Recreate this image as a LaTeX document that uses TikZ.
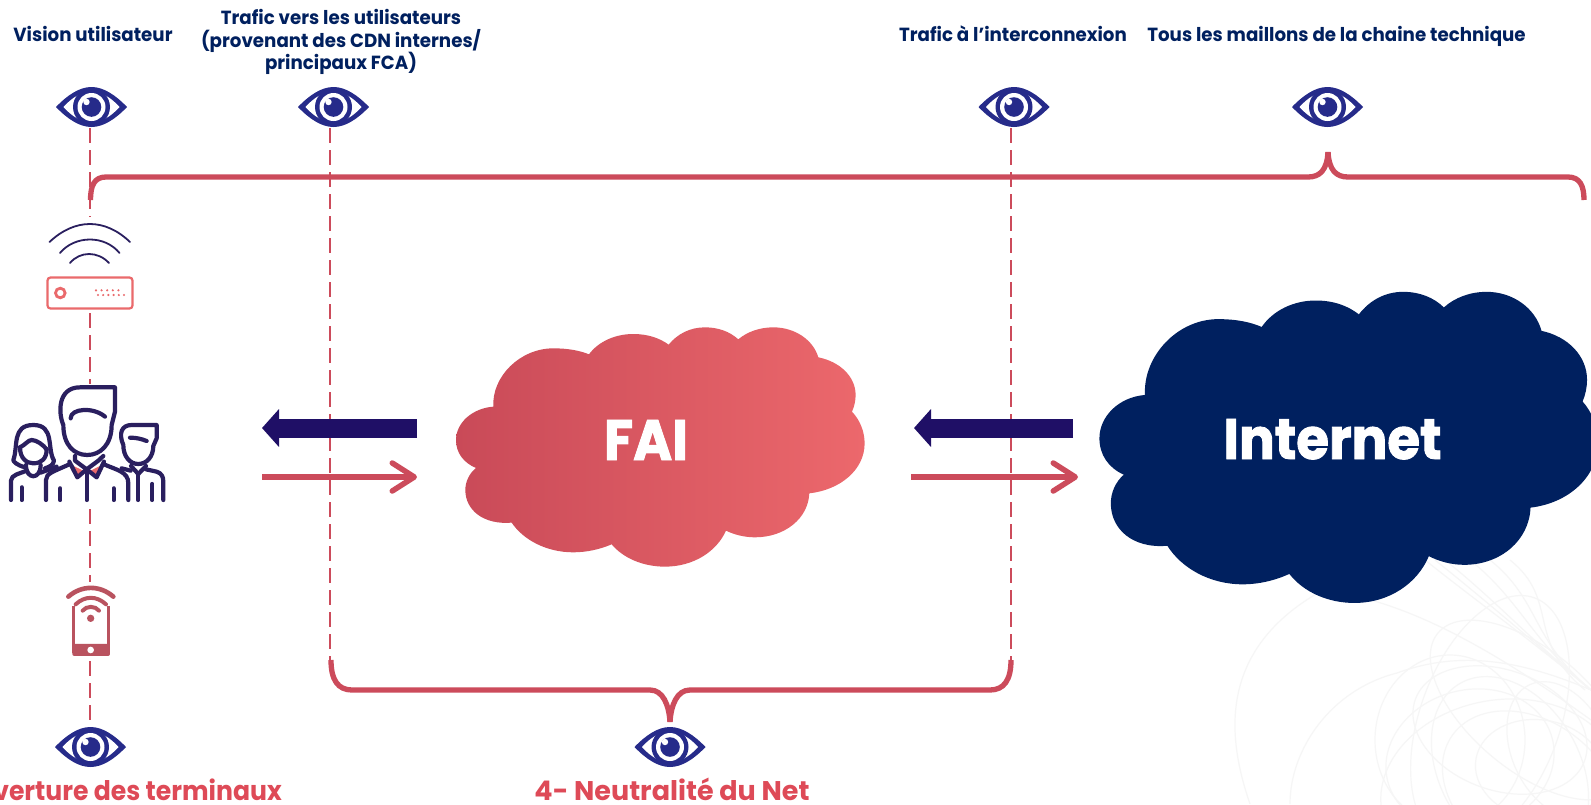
\documentclass[tikz,border=0pt]{standalone}
\usepackage{fontspec}
\usetikzlibrary{arrows.meta,calc}
\setmainfont{Poppins}
\newfontfamily\hdfont[FakeStretch=0.96]{Poppins}
\newfontfamily\termfont[FakeStretch=0.93]{Poppins}
\newfontfamily\cloudfont[FakeStretch=0.93,FakeBold=1.6]{Poppins}
\definecolor{navytxt}{HTML}{00205F}
\definecolor{cloudnavy}{HTML}{00205F}
\definecolor{redline}{HTML}{CC4B5B}
\definecolor{redtxt}{HTML}{DE4A57}
\definecolor{eyeblue}{HTML}{262B8A}
\definecolor{arrownavy}{HTML}{1F0F66}
\definecolor{iconink}{HTML}{2A1F5F}
\definecolor{coral}{HTML}{EA6A6C}
\definecolor{phonered}{HTML}{B9535F}
\definecolor{cloudL}{HTML}{C94A58}
\definecolor{cloudR}{HTML}{EC686C}
\definecolor{faint}{HTML}{F6F6F6}
\newcommand{\cloudoutline}{
  (160,290) .. controls (155,200) and (240,115) .. (340,115)
  .. controls (385,115) and (420,122) .. (447,133)
  .. controls (475,95) and (525,72) .. (580,72)
  .. controls (625,72) and (660,85) .. (686,104)
  .. controls (712,72) and (750,52) .. (795,52)
  .. controls (835,52) and (870,65) .. (895,88)
  .. controls (922,65) and (960,52) .. (1000,52)
  .. controls (1065,52) and (1120,90) .. (1135,142)
  .. controls (1200,155) and (1247,200) .. (1247,255)
  .. controls (1247,272) and (1243,290) .. (1236,305)
  .. controls (1260,330) and (1274,365) .. (1274,400)
  .. controls (1274,480) and (1200,540) .. (1108,550)
  .. controls (1105,625) and (1035,682) .. (945,682)
  .. controls (915,682) and (885,675) .. (858,662)
  .. controls (830,725) and (760,770) .. (675,770)
  .. controls (610,770) and (550,745) .. (515,703)
  .. controls (480,718) and (440,727) .. (400,727)
  .. controls (320,727) and (250,690) .. (215,638)
  .. controls (130,645) and (76,600) .. (76,540)
  .. controls (76,515) and (88,490) .. (108,474)
  .. controls (70,458) and (48,428) .. (48,390)
  .. controls (48,340) and (95,295) .. (160,290) -- cycle}
\tikzset{
  headtxt/.style={font=\hdfont\bfseries\fontsize{19}{22}\selectfont,text=navytxt,anchor=base,inner sep=0pt},
  bigred/.style={font=\bfseries\fontsize{27}{32}\selectfont,text=redtxt,anchor=base,inner sep=0pt},
  termred/.style={font=\termfont\bfseries\fontsize{27}{32}\selectfont,text=redtxt,anchor=base east,inner sep=0pt},
  cloudtxt/.style={font=\cloudfont\bfseries\fontsize{57}{60}\selectfont,text=white,anchor=base,inner sep=0pt},
  eyenode/.style={minimum width=71pt,minimum height=40pt,inner sep=0pt,outer sep=0pt},
  iconnode/.style={inner sep=0pt,outer sep=0pt},
  dashline/.style={draw=redline,line width=2pt,dash pattern=on 15pt off 7pt},
  bracket/.style={draw=redline,line width=5.3pt,line join=round},
  navyarrow/.style={draw=arrownavy,line width=19pt,-{Triangle[length=17pt,width=37pt]}},
  redarrow/.style={draw=redline,line width=5.5pt,-{Straight Barb[length=22pt,width=28pt,line width=5.5pt,round]}},
  ink/.style={draw=iconink,line width=4.2pt,line cap=round,line join=round},
  inkthin/.style={draw=iconink,line width=1.8pt,line cap=round},
  eyepic/.pic={
    \fill[eyeblue] (-35.5,0) .. controls (-24,-12) and (-12,-20) .. (0,-20) .. controls (12,-20) and (24,-12) .. (35.5,0)
       .. controls (24,12) and (12,20) .. (0,20) .. controls (-12,20) and (-24,12) .. (-35.5,0) -- cycle;
    \fill[white] (-28,0) .. controls (-20,-9) and (-10,-15.5) .. (0,-15.5) .. controls (10,-15.5) and (20,-9) .. (28,0)
       .. controls (20,9) and (10,15.5) .. (0,15.5) .. controls (-10,15.5) and (-20,9) .. (-28,0) -- cycle;
    \fill[eyeblue] (0,0) circle[radius=18.5];
    \fill[white] (0,0) circle[radius=14];
    \fill[eyeblue] (0,0) circle[radius=9.8];
    \fill[white] (-5,-5) circle[radius=3.2];
  }
}
\begin{document}
\begin{tikzpicture}[x=1pt,y=-1pt]
\useasboundingbox (0,0) rectangle (1591,804);
\fill[white] (0,0) rectangle (1591,804);

% faint background scribble
\begin{scope}
\clip (1200,480) rectangle (1591,804);
\foreach \a/\rx/\ry/\cx/\cy in {0/75/85/1450/740, 15/85/70/1470/760, -20/90/60/1500/730, 30/70/100/1510/770, -35/95/70/1530/790, 10/120/90/1500/790, 50/60/120/1530/710, -10/65/50/1540/770, 25/48/72/1560/750, 70/130/70/1490/720}
  \draw[faint,line width=1.2pt,rotate around={\a:(\cx,\cy)}] (\cx,\cy) ellipse[x radius=\rx,y radius=\ry];
\draw[faint,line width=1.2pt] (1250,804) .. controls (1228,740) and (1215,650) .. (1323,590) .. controls (1400,600) and (1480,640) .. (1591,720);
\draw[faint,line width=1.2pt] (1290,804) .. controls (1290,750) and (1330,690) .. (1397,673) .. controls (1460,650) and (1520,660) .. (1591,690);
\foreach \sx/\ex in {1425/1591,1435/1591,1445/1591,1470/1591,1490/1591,1510/1585}
  \draw[faint,line width=1.2pt] (\sx,560) .. controls (\sx+50,600) and (\ex-60,640) .. (\ex,690);
\end{scope}

% clouds
\begin{scope}[shift={(440pt,-310pt)},x=0.3333pt,y=-0.3333pt]
  \shade[left color=cloudL,right color=cloudR] \cloudoutline;
\end{scope}
\begin{scope}
\clip (0,0) rectangle (1591,804);
\begin{scope}[shift={(1079.9pt,-269.3pt)},x=0.4067pt,y=-0.4333pt]
  \fill[cloudnavy] \cloudoutline;
\end{scope}
\end{scope}
\node[cloudtxt] (fai) at (646,460) {FAI};
\node[cloudtxt] (internet) at (1332.5,459) {Internet};

% eyes
\node[eyenode] (eye1) at (91.5,107) {};
\node[eyenode] (eye2) at (333.5,107) {};
\node[eyenode] (eye3) at (1014,107) {};
\node[eyenode] (eye4) at (1327.5,107) {};
\node[eyenode] (eye5) at (90.5,747) {};
\node[eyenode] (eye6) at (670,747) {};
\foreach \e in {eye1,eye2,eye3,eye4,eye5,eye6} \pic at (\e) {eyepic};

% texts
\node[headtxt] (t1) at (93,41) {Vision utilisateur};
\node[headtxt] (t2) at (341,24) {Trafic vers les utilisateurs};
\node[headtxt] (t3) at (341,47) {(provenant des CDN internes/};
\node[headtxt] (t4) at (341,69) {principaux FCA)};
\node[headtxt] (t5) at (1013,41) {Trafic à l’interconnexion};
\node[headtxt] (t6) at (1336.5,41) {Tous les maillons de la chaine technique};
\node[termred] (t7) at (282,800) {verture des terminaux};
\node[bigred] (t8) at (672,800) {4- Neutralité du Net};

% icon anchors
\node[iconnode,minimum width=85pt,minimum height=31pt] (router) at (90,293) {};

% dashed lines
\coordinate (d1a) at (90,128);
\coordinate (d1b) at (90,217);
\coordinate (d2a) at (90,313);
\coordinate (d2b) at (90,384);
\coordinate (d3a) at (90,509);
\coordinate (d3b) at (90,582);
\coordinate (d4a) at (90,661);
\coordinate (d4b) at (90,725);
\coordinate (d5a) at (329.5,128);
\coordinate (d5b) at (329.5,660);
\coordinate (d6a) at (1011,128);
\coordinate (d6b) at (1011,660);
\draw[dashline] (d1a) -- (d1b);
\draw[dashline] (d2a) -- (d2b);
\draw[dashline] (d3a) -- (d3b);
\draw[dashline] (d4a) -- (d4b);
\draw[dashline] (d5a) -- (d5b);
\draw[dashline] (d6a) -- (d6b);

% brackets
\coordinate (bt1) at (90.5,200);
\coordinate (bt2) at (1584,200);
\coordinate (btp) at (1328,152);
\draw[bracket] (bt1) .. controls (90.5,186) and (94,177) .. (106,177) -- (1308,177)
   .. controls (1320,177) and (1327,170) .. (btp);
\draw[bracket] (btp) .. controls (1329,170) and (1336,177) .. (1348,177) -- (1568,177)
   .. controls (1580,177) and (1584,186) .. (bt2);
\coordinate (bb1) at (331,660);
\coordinate (bb2) at (1011,660);
\coordinate (bbp) at (670,722);
\draw[bracket] (bb1) .. controls (331,680) and (338,690) .. (352,690) -- (650,690)
   .. controls (663,690) and (669,705) .. (bbp);
\draw[bracket] (bbp) .. controls (671,705) and (677,690) .. (690,690) -- (990,690)
   .. controls (1004,690) and (1011,680) .. (bb2);

% arrows
\coordinate (a1r) at (417,428);
\coordinate (a1l) at (262,428);
\coordinate (a2l) at (262,477);
\coordinate (a2r) at (417,477);
\coordinate (a3r) at (1073,428);
\coordinate (a3l) at (914,428);
\coordinate (a4l) at (911,477);
\coordinate (a4r) at (1078,477);
\draw[navyarrow] (a1r) -- (a1l);
\draw[redarrow] (a2l) -- (a2r);
\draw[navyarrow] (a3r) -- (a3l);
\draw[redarrow] (a4l) -- (a4r);

% wifi and router
\draw[inkthin] (49.5,242) .. controls (75,218) and (105,218) .. (130,242);
\draw[inkthin] (60,253) .. controls (75,235) and (105,235) .. (119.5,253);
\draw[inkthin] (70,263) .. controls (80,251) and (98,251) .. (109,263);
\draw[coral,line width=2.2pt,rounded corners=3pt] (router.north west) rectangle (router.south east);
\draw[coral,line width=2.8pt] (60.3,293) circle[radius=4.8];
\foreach \i in {0,...,4} \fill[coral] (96+\i*5.6,290.3) circle[radius=1.2];
\foreach \i in {0,...,5} \fill[coral] (98+\i*5.2,295) circle[radius=1.2];

% people (coordinates read from the 3x crop)
\begin{scope}[shift={(0pt,-370pt)},x=0.3333pt,y=-0.3333pt]
  \fill[coral] (208,282) -- (250,302) -- (232,322) -- cycle;
  \fill[coral] (312,282) -- (272,302) -- (290,322) -- cycle;
  % centre man
  \draw[ink] (190,165) .. controls (175,130) and (172,52) .. (240,52) -- (345,52) -- (345,125) -- (335,165)
     .. controls (335,225) and (300,255) .. (262,255) .. controls (222,255) and (190,225) .. (190,165);
  \draw[ink] (212,145) .. controls (212,115) and (280,110) .. (315,140);
  \draw[ink] (225,258) -- (225,272) -- (260,298) -- (295,272) -- (310,258);
  \draw[ink] (260,298) -- (260,390);
  \draw[ink] (208,275) -- (232,322) -- (260,298) -- (290,322) -- (312,275);
  \draw[ink] (138,390) -- (138,330) .. controls (138,310) and (160,305) .. (208,283);
  \draw[ink] (312,283) .. controls (350,300) and (385,305) .. (385,340) -- (385,390);
  \draw[ink] (181,355) -- (181,390);
  \draw[ink] (341,355) -- (341,390);
  % woman
  \draw[ink] (75,292) .. controls (50,285) and (40,275) .. (40,270) .. controls (55,230) and (35,165) .. (100,165)
     .. controls (165,165) and (140,235) .. (162,272) .. controls (160,285) and (150,290) .. (135,295);
  \draw[ink] (60,232) .. controls (75,225) and (85,210) .. (95,210) .. controls (110,210) and (130,225) .. (140,238);
  \draw[ink] (60,232) .. controls (60,265) and (80,280) .. (100,280) .. controls (125,280) and (140,265) .. (140,238);
  \draw[ink] (78,285) .. controls (78,330) and (122,330) .. (122,285);
  \draw[ink] (33,390) -- (33,332) .. controls (33,315) and (60,310) .. (78,303);
  \draw[ink] (122,308) -- (170,290);
  \draw[ink] (65,352) -- (65,390);
  % right man
  \draw[ink] (470,165) -- (395,165) .. controls (365,165) and (355,190) .. (370,225)
     .. controls (370,260) and (390,282) .. (415,282) .. controls (440,282) and (460,260) .. (460,228) -- (470,205) -- (470,165);
  \draw[ink] (390,203) .. controls (410,203) and (425,207) .. (440,213);
  \draw[ink] (393,288) -- (415,312) -- (438,288);
  \draw[ink] (415,312) -- (415,390);
  \draw[ink] (438,298) -- (470,305) .. controls (485,310) and (490,320) .. (490,335) -- (490,390);
  \draw[ink] (457,342) -- (457,390);
  \draw[ink] (392,302) -- (365,295);
\end{scope}

% phone
\begin{scope}[shift={(0pt,-370pt)},x=0.3333pt,y=-0.3333pt]
  \draw[phonered,line width=4.6pt,line cap=round] (205,680) .. controls (245,645) and (300,645) .. (340,680);
  \draw[phonered,line width=4pt,line cap=round] (227,703) .. controls (255,677) and (290,677) .. (318,703);
  \draw[phonered,line width=4pt,line cap=round] (248,722) .. controls (260,707) and (285,707) .. (297,722);
  \fill[phonered] (272,745) circle[radius=11];
  \draw[phonered,line width=3pt] (220,708) -- (220,850);
  \draw[phonered,line width=3pt] (327,708) -- (327,850);
  \fill[phonered,rounded corners=2pt] (217,822) rectangle (330,858);
  \fill[white] (272,840) circle[radius=10];
\end{scope}
\end{tikzpicture}
\end{document}
